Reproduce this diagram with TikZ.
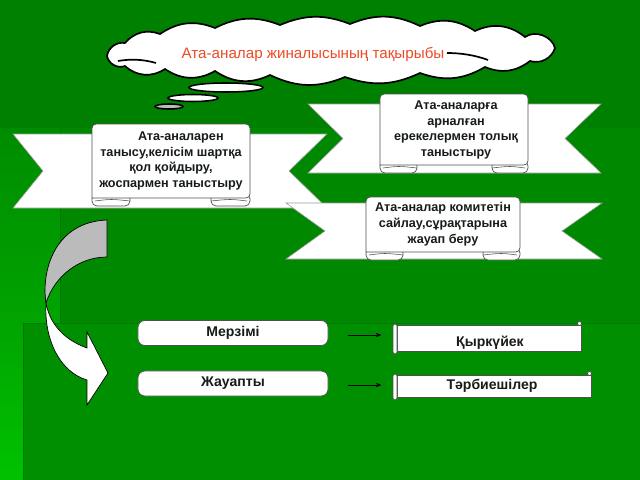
\documentclass[tikz,border=0pt]{standalone}
\usepackage{fontspec}
\setmainfont{Liberation Sans}
\usetikzlibrary{arrows.meta}
\definecolor{g0}{HTML}{008000}
\definecolor{g1}{HTML}{008900}
\definecolor{g2}{HTML}{008F00}
\definecolor{gl1}{HTML}{008C00}
\definecolor{gl2}{HTML}{00A400}
\definecolor{gl3}{HTML}{00C200}
\definecolor{gline}{HTML}{007A00}
\definecolor{txt}{HTML}{161C16}
\definecolor{cloudred}{HTML}{EE4A26}
\definecolor{scrollgray}{HTML}{505050}
\definecolor{bandgray}{HTML}{9A9A9A}
\definecolor{arrgray}{HTML}{BBBBBB}
\tikzset{
 band/.style={fill=white, draw=bandgray, line width=0.4pt},
 scrl/.style={fill=white, draw=scrollgray, line width=0.5pt},
 scrltxt/.style={text=txt, font=\bfseries\fontsize{9}{11.2}\selectfont, align=center, inner sep=0pt},
 cloudtxt/.style={text=cloudred, font=\fontsize{10.8}{13}\selectfont, inner sep=0pt},
 lbl/.style={text=txt, font=\bfseries\fontsize{10}{12}\selectfont, inner sep=0pt},
 lbox/.style={fill=white, draw=scrollgray, line width=0.5pt, rounded corners=5pt, minimum width=4.75cm, minimum height=0.625cm, inner sep=0pt},
 bub/.style={fill=white, draw=black, line width=1.1pt},
 arr/.style={-{Stealth[length=4pt,width=3.2pt]}, draw=black, line width=0.5pt},
 bendline/.style={draw=black, line width=0.5pt},
}
\newcommand\myband[6]{\draw[band] (#1,#3) -- (#2,#3) -- ({#2-#6},{(#3+#4)/2}) -- (#2,#4) -- (#1,#4) -- ({#1+#5},{(#3+#4)/2}) -- cycle;}
\newcommand\myscroll[6]{%
 \draw[scrl, rounded corners=3.5pt] (#1,#4-4) rectangle (#5,#4+8);
 \draw[scrl, rounded corners=3.5pt] (#6,#4-4) rectangle (#2,#4+8);
 \draw[scrollgray, line width=0.4pt] (#1+3,#4+3) .. controls ({(#1+#5)/2},#4+1) .. (#5,#4+3) (#6,#4+3) .. controls ({(#6+#2)/2},#4+1) .. (#2-3,#4+3);
 \draw[scrl, rounded corners=3pt] (#1,#4) -- (#1,#3) -- (#2,#3) -- (#2,#4) [sharp corners] -- cycle;}
\newcommand\myhscroll[4]{%
 \draw[scrl] (#1+4,#3) rectangle (#2,#4);
 \draw[scrl, rounded corners=1.5pt] (#1,#3-1) rectangle (#1+4,#4+3);
 \draw[scrl] (#2-1.5,#3-1.5) circle[radius=2];}
\begin{document}
\begin{tikzpicture}[x=0.025cm,y=-0.025cm]
\useasboundingbox (0,0) rectangle (640,480);
% background
\fill[g0] (0,0) rectangle (640,480);
\shade[top color=gl1, bottom color=gl2] (0,128) rectangle (60,323);
\fill[g1] (60,128) rectangle (640,323);
\shade[top color=gl2, bottom color=gl3] (0,323) rectangle (23,480);
\fill[g2] (23,323) rectangle (640,480);
\draw[gline, line width=0.4pt] (60,128) -- (60,323) (23,323) -- (640,323) (23,323) -- (23,480);
% cloud
\draw[black, line width=1.2pt, fill=white] (107,56)
  to[bend left=45] (125,43) to[bend left=35] (160,34) to[bend left=28] (215,28)
  to[bend left=24] (280,25) to[bend left=22] (350,24) to[bend left=24] (420,26)
  to[bend left=28] (475,31) to[bend left=32] (525,37) to[bend left=55] (555,48)
  to[bend left=45] (530,61) to[bend left=30] (485,67) to[bend left=25] (420,73)
  to[bend left=22] (345,77) to[bend left=24] (270,75) to[bend left=30] (215,71)
  to[bend left=32] (165,69) to[bend left=38] (125,66) to[bend left=50] (107,56) -- cycle;
\coordinate (cloud) at (330,51);
\draw[black, line width=1.2pt] (118,61) .. controls (130,59) and (142,59) .. (156,63);
\draw[black, line width=1.2pt] (447,53) .. controls (460,53) and (475,55) .. (488,60);
\node[cloudtxt] (t-cloud) at (313,55) {Ата-аналар жиналысының тақырыбы};
\draw[bub] (226,87.5) ellipse [x radius=37, y radius=4.5];
\draw[bub] (193,98) ellipse [x radius=25, y radius=3.5];
\draw[bub, fill=arrgray] (169,106.5) ellipse [x radius=14, y radius=2.5];
% left ribbon
\myband{13}{327}{134}{208}{30}{38}
\myscroll{92}{250}{124}{198}{130}{211}
\node[scrltxt] (t-left) at (171,161) {\hspace*{14pt}Ата-аналарен\\танысу,келісім шартқа\\қол қойдыру,\\жоспармен таныстыру};
% upper right ribbon
\myband{308}{601}{104}{173}{35}{36}
\myscroll{380}{528}{94}{165}{417}{492}
\node[scrltxt] (t-ur) at (456,130) {Ата-аналарға\\арналған\\ерекелермен толық\\таныстыру};
% lower right ribbon
\myband{286}{602}{203}{259}{39}{40}
\myscroll{366}{520}{197}{252}{403}{483}
\node[scrltxt] (t-lr) at (443,224) {Ата-аналар комитетін\\сайлау,сұрақтарына\\жауап беру};
% curved arrow
\draw[bendline, fill=arrgray] (107,220) -- (107,257) .. controls (80,257) and (55,275) .. (46,303) .. controls (41,270) and (55,222) .. (107,220) -- cycle;
\draw[bendline, fill=white] (46,303) .. controls (44,340) and (60,372) .. (87,380) -- (87,405) -- (108,373) -- (87,332) -- (87,348) .. controls (65,340) and (50,325) .. (46,303) -- cycle;
% bottom labels
\node[lbox] (mz) at (233,333) {};
\node[lbl] (t-mz) at (233,333) {Мерзімі};
\node[lbox] (ja) at (233,383.5) {};
\node[lbl] (t-ja) at (233,383) {Жауапты};
\myhscroll{393}{581}{325}{351}
\node[lbl] (t-kr) at (490,343) {Қыркүйек};
\myhscroll{393}{591}{375}{397}
\node[lbl] (t-tb) at (492,386) {Тәрбиешілер};
\draw[arr] ([shift={(20,2)}]mz.east) -- ++(33,0);
\draw[arr] ([shift={(20,1.5)}]ja.east) -- ++(33,0);
\end{tikzpicture}
\end{document}
